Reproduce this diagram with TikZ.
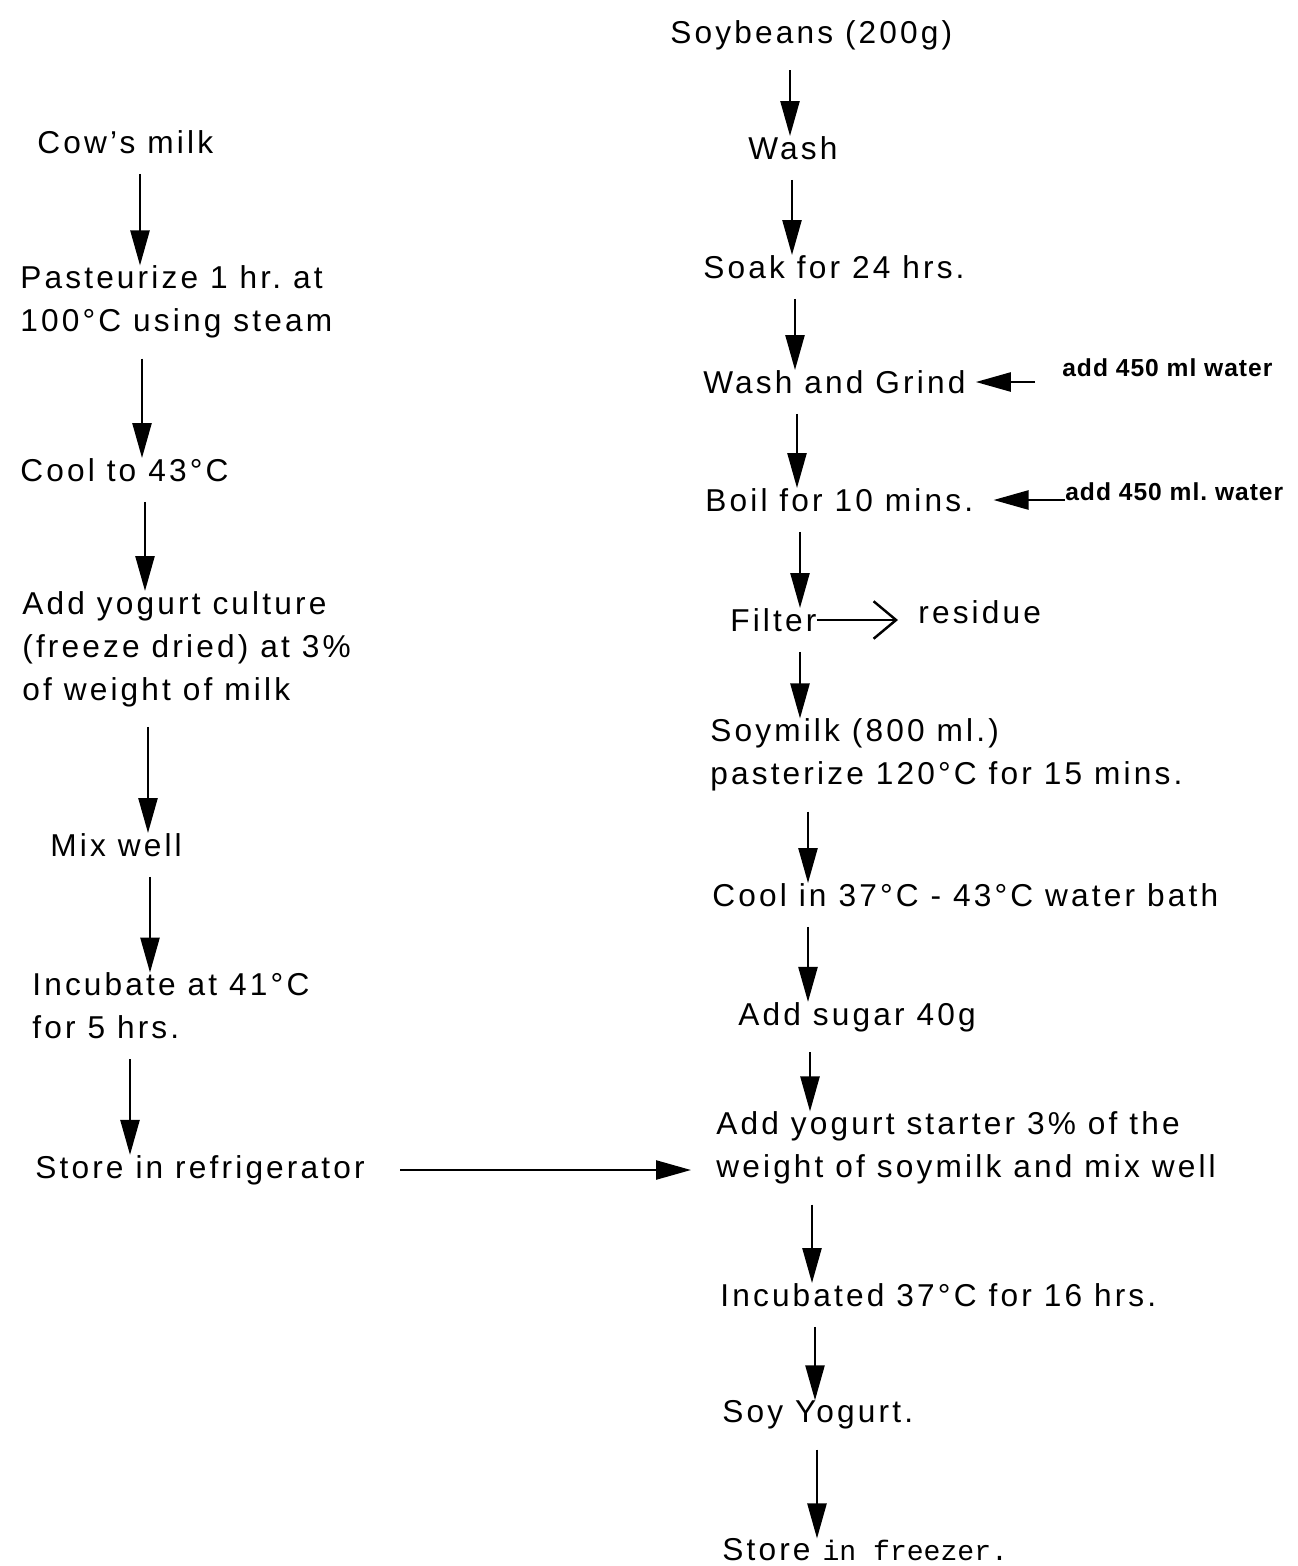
\documentclass[tikz,border=0pt]{standalone}
\usepackage{fontspec}
\setmainfont[LetterSpace=10]{Liberation Sans}
\newfontfamily\notefont[LetterSpace=4]{Liberation Sans}
\newfontfamily\typewriter{Liberation Mono}
\usetikzlibrary{arrows.meta}

\begin{document}
\begin{tikzpicture}[x=0.02cm,y=-0.02cm,
  stage/.style={anchor=west,align=left,inner sep=0pt,
    font=\fontsize{18}{24.4}\selectfont\frenchspacing},
  addnote/.style={anchor=west,inner sep=0pt,
    font=\notefont\fontsize{14}{16}\selectfont\bfseries\frenchspacing},
  flow/.style={line width=1.4pt,shorten <=0.4cm,
    -{Triangle[length=0.7cm,width=0.38cm]}},
  side/.style={line width=1.4pt,
    -{Straight Barb[length=0.45cm,width=0.75cm]}}]
  \useasboundingbox (0,0) rectangle (1298,1566);

  % cow's milk starter culture (left column)
  \node[stage] (cow)     at (37,142)  {Cow's milk};
  \node[stage] (past)    at (20,302)  {Pasteurize 1 hr. at\\100°C using steam};
  \node[stage] (cool)    at (20,470)  {Cool to 43°C};
  \node[stage] (culture) at (22,649)  {Add yogurt culture\\(freeze dried) at 3\%\\of weight of milk};
  \node[stage] (mix)     at (50,845)  {Mix well};
  \node[stage] (incub)   at (32,1006) {Incubate at 41°C\\for 5 hrs.};
  \node[stage] (fridge)  at (35,1170) {Store in refrigerator};

  \draw[flow] (cow.south -| 140,0)     -- (past.north -| 140,0);
  \draw[flow] (past.south -| 142,0)    -- (cool.north -| 142,0);
  \draw[flow] (cool.south -| 145,0)    -- (culture.north -| 145,0);
  \draw[flow] (culture.south -| 148,0) -- (mix.north -| 148,0);
  \draw[flow] (mix.south -| 150,0)     -- (incub.north -| 150,0);
  \draw[flow] (incub.south -| 130,0)   -- (fridge.north -| 130,0);

  % soy yogurt (right column)
  \node[stage] (soy)      at (670,35)   {Soybeans (200g)};
  \node[stage] (wash)     at (748,148)  {Wash};
  \node[stage] (soak)     at (703,267)  {Soak for 24 hrs.};
  \node[stage] (grind)    at (703,382)  {Wash and Grind};
  \node[stage] (boil)     at (705,500)  {Boil for 10 mins.};
  \node[stage] (filter)   at (730,620)  {Filter};
  \node[stage] (residue)  at (918,612)  {residue};
  \node[stage] (soymilk)  at (710,755)  {Soymilk (800 ml.)\\pasterize 120°C for 15 mins.};
  \node[stage] (coolbath) at (712,895)  {Cool in 37°C - 43°C water bath};
  \node[stage] (sugar)    at (738,1017) {Add sugar 40g};
  \node[stage] (starter)  at (716,1148) {Add yogurt starter 3\% of the\\weight of soymilk and mix well};
  \node[stage] (incub2)   at (720,1295) {Incubated 37°C for 16 hrs.};
  \node[stage] (yogurt)   at (722,1415) {Soy Yogurt.};
  \node[stage] (freezer)  at (722,1550) {Store {\typewriter\fontsize{16}{18}\selectfont in freezer.}};

  \node[addnote] (water1) at (1062,368) {add 450 ml water};
  \node[addnote] (water2) at (1065,492) {add 450 ml. water};

  \draw[flow] (soy.south -| 790,0)      -- (wash.north -| 790,0);
  \draw[flow] (wash.south -| 792,0)     -- (soak.north -| 792,0);
  \draw[flow] (soak.south -| 795,0)     -- (grind.north -| 795,0);
  \draw[flow] (grind.south -| 797,0)    -- (boil.north -| 797,0);
  \draw[flow] (boil.south -| 800,0)     -- (filter.north -| 800,0);
  \draw[flow] (filter.south -| 800,0)   -- (soymilk.north -| 800,0);
  \draw[flow] (soymilk.south -| 808,0)  -- (coolbath.north -| 808,0);
  \draw[flow] (coolbath.south -| 808,0) -- (sugar.north -| 808,0);
  \draw[flow] (sugar.south -| 810,0)    -- (starter.north -| 810,0);
  \draw[flow] (starter.south -| 812,0)  -- (incub2.north -| 812,0);
  \draw[flow] (incub2.south -| 815,0)   -- (yogurt.north -| 815,0);
  \draw[flow] (yogurt.south -| 817,0)   -- (freezer.north -| 817,0);

  % water additions and filter residue
  \draw[flow,shorten <=0.54cm,shorten >=0.2cm] (water1.west |- grind.east) -- (grind.east);
  \draw[flow,shorten <=0pt,shorten >=0.4cm] (water2.west |- boil.east) -- (boil.east);
  \draw[side,shorten >=0.4cm] (filter.east) -- (residue.west |- filter.east);

  % starter culture goes into the soymilk
  \draw[flow,shorten <=0.7cm,shorten >=0.5cm] (fridge.east) -- (fridge.east -| starter.west);
\end{tikzpicture}
\end{document}
